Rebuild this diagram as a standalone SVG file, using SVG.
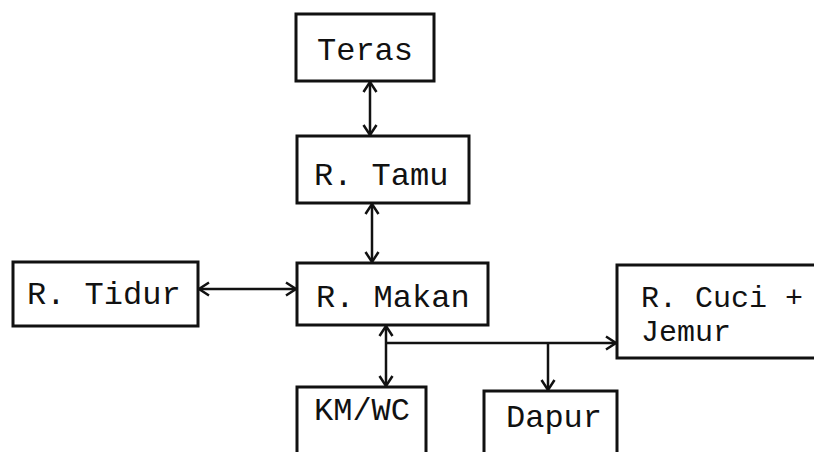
<svg xmlns="http://www.w3.org/2000/svg" width="814" height="452" viewBox="0 0 814 452">
<style>
.box{fill:#fff;stroke:#111;stroke-width:3}
.lbl{font-family:"Liberation Mono","Courier New",monospace;font-size:32px;fill:#111}
.sm{font-size:30px}
.con{fill:none;stroke:#111;stroke-width:2.5}
</style>
<defs>
<marker id="ah" markerUnits="userSpaceOnUse" markerWidth="16" markerHeight="16" refX="12" refY="8" orient="auto-start-reverse" viewBox="0 0 16 16">
<path d="M2,1.5 L12,8 L2,14.5" fill="none" stroke="#111" stroke-width="2.5"/>
</marker>
</defs>
<rect width="814" height="452" fill="#fff"/>
<g id="connectors">
<line class="con" x1="370" y1="82" x2="370" y2="135" marker-start="url(#ah)" marker-end="url(#ah)"/>
<line class="con" x1="372" y1="204" x2="372" y2="262" marker-start="url(#ah)" marker-end="url(#ah)"/>
<line class="con" x1="199" y1="289" x2="296" y2="289" marker-start="url(#ah)" marker-end="url(#ah)"/>
<line class="con" x1="386" y1="326" x2="386" y2="386" marker-start="url(#ah)" marker-end="url(#ah)"/>
<line class="con" x1="386" y1="343" x2="616" y2="343" marker-end="url(#ah)"/>
<line class="con" x1="548" y1="343" x2="548" y2="390" marker-end="url(#ah)"/>
</g>
<g id="teras"><rect class="box" x="296" y="14" width="138" height="67"/><text class="lbl" x="317" y="60">Teras</text></g>
<g id="tamu"><rect class="box" x="297" y="136" width="172" height="67"/><text class="lbl" x="314" y="185">R. Tamu</text></g>
<g id="makan"><rect class="box" x="297" y="263" width="191" height="62"/><text class="lbl" x="316" y="307">R. Makan</text></g>
<g id="tidur"><rect class="box" x="13" y="262" width="185" height="64"/><text class="lbl" x="27" y="304">R. Tidur</text></g>
<g id="cuci"><rect class="box" x="617" y="265" width="220" height="93"/><text class="lbl sm" x="641" y="307">R. Cuci +</text><text class="lbl sm" x="641" y="341">Jemur</text></g>
<g id="kmwc"><rect class="box" x="297" y="387" width="129" height="90"/><text class="lbl" x="314" y="420">KM/WC</text></g>
<g id="dapur"><rect class="box" x="484" y="391" width="133" height="90"/><text class="lbl" x="506" y="427">Dapur</text></g>
</svg>
